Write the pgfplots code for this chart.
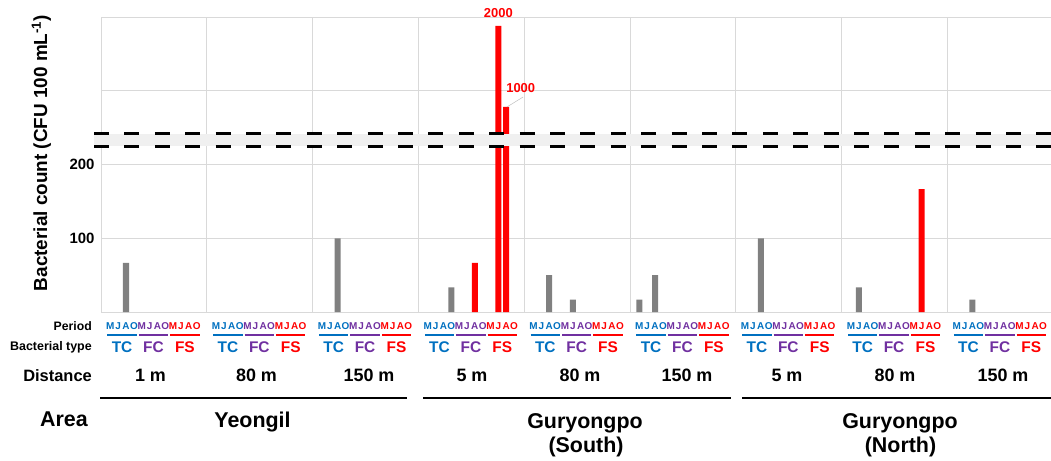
\documentclass[border=0pt]{standalone}
\usepackage{fontspec}
\setmainfont{Liberation Sans}
\usepackage{pgfplots}
\pgfplotsset{compat=1.18}
\definecolor{gridc}{HTML}{D9D9D9}
\definecolor{barg}{HTML}{808080}
\definecolor{tcc}{HTML}{0070C0}
\definecolor{fcc}{HTML}{7030A0}
\definecolor{fsc}{HTML}{FF0000}
\definecolor{bandc}{HTML}{F0F0F0}
\newcommand\fs[1]{\fontsize{#1}{#1}\selectfont\bfseries}

\begin{document}
\begin{tikzpicture}
\path[use as bounding box] (0,0) rectangle (1051bp,-461bp);
\begin{axis}[at={(101bp,-312bp)}, anchor=south west, scale only axis,
  width=950bp, height=295bp,
  xmin=0, xmax=8.979, ymin=0, ymax=400, clip=false,
  axis line style={draw=gridc, line width=0.8pt},
  xtick={1,...,8}, xticklabels={},
  ytick={100,200,300,400}, yticklabels={100,200,,},
  major tick length=0pt,
  grid=major, grid style={gridc, line width=0.8pt},
  yticklabel style={font=\fs{15}, xshift=-3bp}]
% gray bars (values in CFU/100 mL); x = group + slot position
\addplot[ybar, bar width=0.057, bar shift=0pt, fill=barg, draw=none] coordinates {
 (0.2363,66.7) (2.2363,100) (3.3105,33.3) (4.2363,50) (4.4589,16.7)
 (5.0879,16.7) (5.2363,50) (6.2363,100) (7.1621,33.3) (8.2363,16.7)};
% red bars; 2000 and 1000 drawn at their heights on the broken axis (388, 278)
\addplot[ybar, bar width=0.057, bar shift=0pt, fill=fsc, draw=none] coordinates {
 (3.5331,66.7) (3.7557,388) (3.8299,278) (7.7557,166.7)};
% axis break
\fill[bandc] (axis cs:-0.066,224.5) rectangle (axis cs:8.979,241.5);
\draw[line width=2.6bp, dash pattern=on 15bp off 15.4bp] (axis cs:-0.066,242.2) -- (axis cs:8.979,242.2);
\draw[line width=2.6bp, dash pattern=on 15bp off 15.4bp] (axis cs:-0.066,224.2) -- (axis cs:8.979,224.2);
\node[text=fsc, font=\fs{13}] at (axis cs:3.7557,405.4) {2000};
\node[text=fsc, font=\fs{13}] at (axis cs:3.967,303.7) {1000};
\draw[gray!50, line width=0.5bp] (axis cs:3.837,278) -- (axis cs:3.989,291.5);
\end{axis}
\begin{scope}[x=1bp, y=-1bp]
\node[rotate=90, font=\fs{19}] at (41.5,153) {Bacterial count (CFU 100 mL\textsuperscript{-1})};
\node[anchor=base east, font=\fs{12.3}, inner sep=0] at (92,330) {Period};
\node[anchor=base east, font=\fs{12.5}, inner sep=0] at (92,350) {Bacterial type};
\node[anchor=base east, font=\fs{16.5}, inner sep=0] at (92,381) {Distance};
\node[anchor=base east, font=\fs{21.5}, inner sep=0] at (88,426) {Area};
\foreach \g in {0,...,8}{
  \foreach \t/\cc/\n in {0/tcc/TC,1/fcc/FC,2/fsc/FS}{
    \pgfmathsetmacro\xl{101+\g*105.8+5.4+31.4*\t}
    \draw[\cc, line width=1.8bp] (\xl+1,335) -- (\xl+30.4,335);
    \node[text=\cc, font=\fs{15.5}, anchor=base, inner sep=0] at (\xl+15.7,352) {\n};
    \foreach \k/\L in {0/M,1/J,2/A,3/O}{
      \node[text=\cc, font=\fs{10}, anchor=base, inner sep=0] at (\xl+3.925+7.85*\k,329.5) {\L};
    }
  }
}
\foreach \x/\d in {150.5/1 m,256.5/80 m,369/150 m,472/5 m,580/80 m,687/150 m,787/5 m,895/80 m,1003/150 m}
  \node[font=\fs{18}, anchor=base, inner sep=0] at (\x,381.5) {\d};
\draw[line width=2.7bp] (100,398) -- (407,398);
\draw[line width=2.7bp] (423,398) -- (731,398);
\draw[line width=2.7bp] (742,398) -- (1051,398);
\node[font=\fs{21.5}, anchor=base, inner sep=0] at (252.5,427) {Yeongil};
\node[font=\fs{21.5}, anchor=base, inner sep=0] at (585,428) {Guryongpo};
\node[font=\fs{21.5}, anchor=base, inner sep=0] at (586,452) {(South)};
\node[font=\fs{21.5}, anchor=base, inner sep=0] at (900,428) {Guryongpo};
\node[font=\fs{21.5}, anchor=base, inner sep=0] at (900.5,452) {(North)};
\end{scope}
\end{tikzpicture}
\end{document}
